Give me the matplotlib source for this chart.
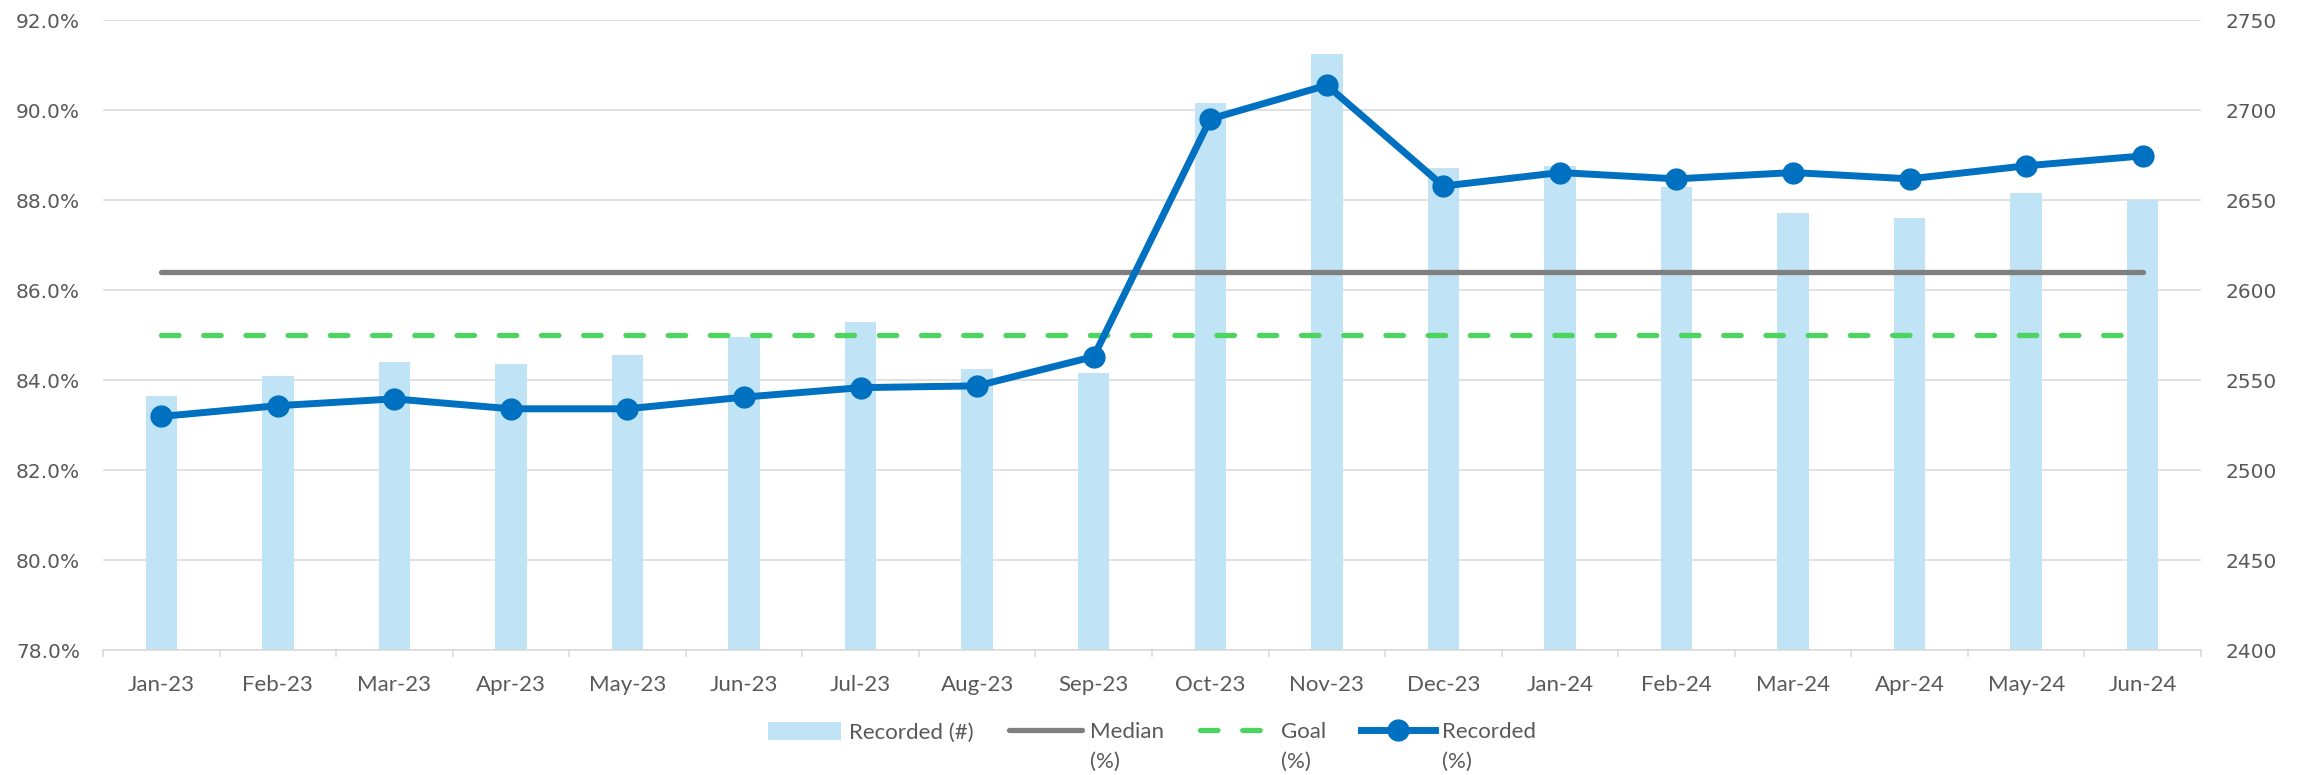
import numpy as np
import matplotlib
matplotlib.use("Agg")
import matplotlib.pyplot as plt
from matplotlib.ticker import FuncFormatter, MultipleLocator

# data
months = ["Jan-23", "Feb-23", "Mar-23", "Apr-23", "May-23", "Jun-23", "Jul-23", "Aug-23", "Sep-23",
          "Oct-23", "Nov-23", "Dec-23", "Jan-24", "Feb-24", "Mar-24", "Apr-24", "May-24", "Jun-24"]
recorded_count = [2541, 2552, 2560, 2559, 2564, 2574, 2582, 2556, 2554,
                  2704, 2731, 2668, 2669, 2657, 2643, 2640, 2654, 2650]
recorded_pct = [83.19, 83.43, 83.58, 83.36, 83.36, 83.62, 83.83, 83.87, 84.52,
                89.80, 90.55, 88.31, 88.61, 88.47, 88.61, 88.47, 88.76, 88.98]
median_pct = 86.41
goal_pct = 85.0

TXT = "#595959"
GRID = "#D9D9D9"

W, H = 2305, 775
fig = plt.figure(figsize=(W / 100, H / 100), dpi=100)
ax2 = fig.add_axes([103 / W, 1 - 650 / H, 2098 / W, 630 / H])   # counts (bars, right)
ax = ax2.twinx()                                                  # percent (lines, left)
ax.yaxis.tick_left()
ax2.yaxis.tick_right()
ax.set_zorder(ax2.get_zorder() + 1)
ax.patch.set_visible(False)

x = np.arange(len(months))

# bars
ax2.bar(x, recorded_count, width=0.27, color="#C0E4F5", zorder=2, label="Recorded (#)")
ax2.set_ylim(2400, 2750)
ax2.yaxis.set_major_locator(MultipleLocator(50))
ax2.grid(axis="y", color=GRID, lw=1.1, zorder=0)
ax2.set_axisbelow(True)

# lines
n = len(months)
ln_med, = ax.plot(x, [median_pct] * n, color="#7F7F7F", lw=3.8, solid_capstyle="round", label="Median")
ln_goal, = ax.plot(x, [goal_pct] * n, color="#4DD35F", lw=3.8, dashes=(3.3, 4.7),
                   dash_capstyle="round", label="Goal")
ln_rec, = ax.plot(x, recorded_pct, color="#0070C0", lw=5, marker="o", ms=15,
                  solid_joinstyle="round", label="Recorded")
ax.set_ylim(78, 92)
ax.yaxis.set_major_locator(MultipleLocator(2))
ax.yaxis.set_major_formatter(FuncFormatter(lambda v, p: f"{v:.1f}%"))

for a in (ax, ax2):
    a.set_xlim(-0.5, n - 0.5)
    for s in a.spines.values():
        s.set_visible(False)
    a.tick_params(axis="y", length=0, colors=TXT, labelsize=14.5)
ax.tick_params(axis="y", pad=16.5)
ax2.tick_params(axis="y", pad=17.3)
for lab in ax.get_yticklabels() + ax2.get_yticklabels():
    lab.set_fontfamily("DejaVu Sans")

ax2.spines["bottom"].set_visible(True)
ax2.spines["bottom"].set_color(GRID)
ax2.spines["bottom"].set_linewidth(1.1)
ax2.set_xticks(x)
ax2.set_xticklabels(months, fontfamily="Lato", fontsize=16, color=TXT)
ax2.set_xticks(np.arange(-0.5, n), minor=True)
ax2.tick_params(axis="x", which="major", length=0, pad=18)
ax2.tick_params(axis="x", which="minor", length=5, width=1.1, color=GRID)
ax.tick_params(axis="x", which="both", bottom=False, labelbottom=False)

# legend
bar_handle = ax2.patches[0]
leg = fig.legend([bar_handle, ln_med, ln_goal, ln_rec], ["Recorded (#)", "Median", "Goal", "Recorded"],
                 loc="center", bbox_to_anchor=(1152 / W, 1 - 732 / H), ncol=4, frameon=False,
                 prop={"family": "Lato", "size": 16}, handlelength=3.3, handleheight=0.9,
                 handletextpad=0.35, columnspacing=1.6, labelcolor=TXT)

fig.canvas.draw()
for t in leg.get_texts()[1:]:
    bb = t.get_window_extent()
    fig.text(bb.x0 / W, ((bb.y0 + bb.y1) / 2 - 29) / H, "(%)", ha="left", va="center",
             family="Lato", fontsize=16, color=TXT)

fig.savefig("out.png", dpi=100)
